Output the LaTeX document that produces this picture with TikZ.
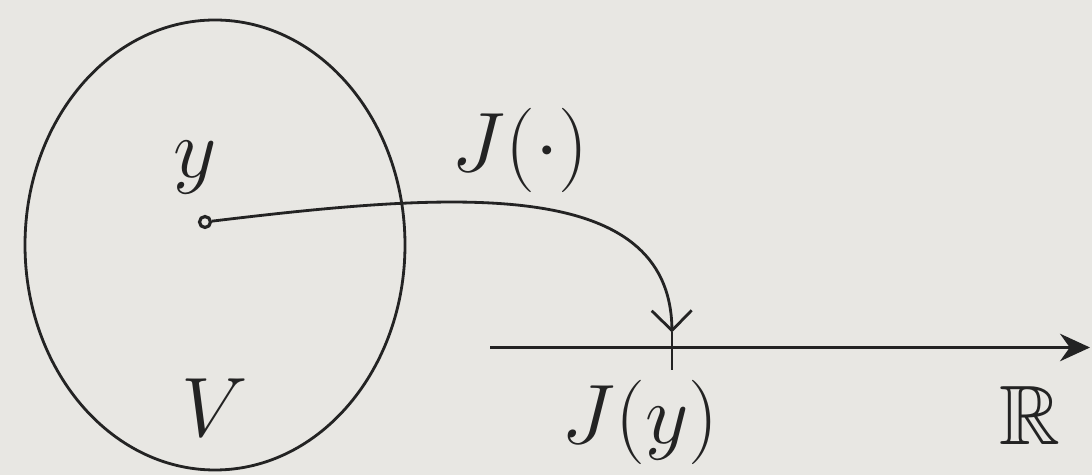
\RequirePackage{fix-cm}
\documentclass[tikz,border=0pt]{standalone}
\usepackage{amsmath}
\usepackage{amssymb}
\usepackage{xcolor}
\usepackage{tikz}
\usetikzlibrary{arrows.meta, positioning, calc}

\definecolor{paper}{RGB}{232,231,227}
\definecolor{ink}{RGB}{35,35,35}

\begin{document}
\begin{tikzpicture}[
    pen/.style={
        draw=ink,
        line width=1.6pt
    },
    dot/.style={
        circle,
        draw=ink,
        line width=1.8pt,
        inner sep=0pt,
        minimum size=0.22cm
    },
    lbl/.style={
        text=ink,
        font=\fontsize{48}{52}\selectfont
    },
    maparrow/.style={
        pen,
        -{Straight Barb[length=0.4cm, width=0.8cm, line width=1.6pt]}
    },
    axisarrow/.style={
        pen,
        -{Stealth[length=0.6cm, width=0.55cm]}
    }
]

\fill[paper] (0,0) rectangle (21.84,9.5);
\useasboundingbox (0,0) rectangle (21.84,9.5);

% the set V
\draw[pen] (4.3,4.6) ellipse [x radius=3.8cm, y radius=4.5cm];
\node[lbl] (setv) at (4.3,1.35) {$V$};

% the point y
\node[dot] (yp) at (4.1,5.06) {};
\node[lbl] (ylab) at (3.9,6.15) {$y$};

% real line
\coordinate (axl) at (9.8,2.55);
\coordinate (axr) at (21.8,2.55);
\draw[axisarrow] (axl) -- (axr);
\node[lbl] (reals) at (20.6,1.2) {$\mathbb{R}$};

% tick at J(y)
\coordinate (ticktop) at (13.44,2.85);
\coordinate (tickbot) at (13.44,2.1);
\draw[pen] (ticktop) -- (tickbot);
\node[lbl] (jy) at (12.8,1.05) {$J(y)$};

% the map J
\draw[maparrow] (yp) .. controls (9,5.65) and (13.4,6.0) .. (ticktop);
\node[lbl] (jmap) at (10.4,6.5) {$J(\cdot)$};

\end{tikzpicture}
\end{document}
